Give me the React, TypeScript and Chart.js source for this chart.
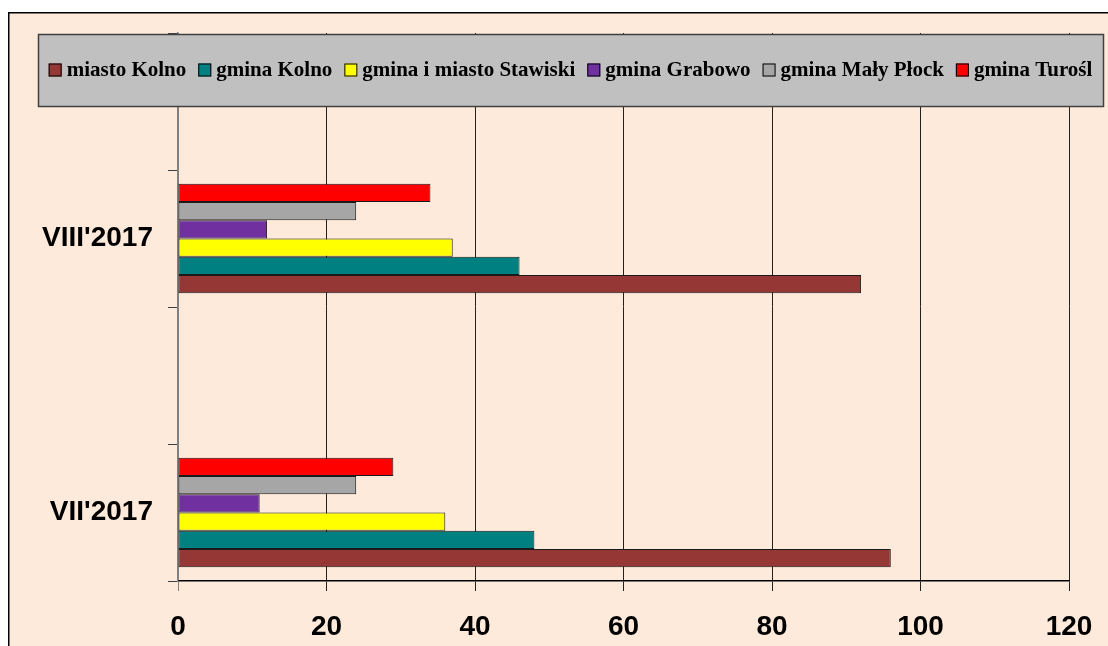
import React, { useEffect, useRef } from "react";
import { Chart, registerables } from "chart.js";

Chart.register(...registerables);

// categories listed bottom-to-top
const categories = ["VII'2017", "VIII'2017"];
const seriesNames = [
  "miasto Kolno",
  "gmina Kolno",
  "gmina i miasto Stawiski",
  "gmina Grabowo",
  "gmina Mały Płock",
  "gmina Turośl",
];
const miastoKolno = [96, 92];
const gminaKolno = [48, 46];
const gminaStawiski = [36, 37];
const gminaGrabowo = [11, 12];
const gminaMalyPlock = [24, 24];
const gminaTurosl = [29, 34];
const xTickValues = [0, 20, 40, 60, 80, 100, 120];

const seriesValues = [miastoKolno, gminaKolno, gminaStawiski, gminaGrabowo, gminaMalyPlock, gminaTurosl];
const seriesColors = ["#953735", "#008080", "#FFFF00", "#7030A0", "#A6A6A6", "#FF0000"];

const W = 1108;
const H = 646;

// each category is followed by an empty slot (as in the original sheet layout)
const chartLabels: string[] = [];
categories.forEach((c) => {
  chartLabels.push(c);
  chartLabels.push("");
});
const expand = (vals: number[]) => {
  const out: (number | null)[] = [];
  vals.forEach((v) => {
    out.push(v);
    out.push(null);
  });
  return out;
};

// datasets are given to Chart.js in reverse so the first series sits at the bottom of each group
const datasetsReversed = seriesNames
  .map((name, i) => ({
    label: name,
    data: expand(seriesValues[i]),
    backgroundColor: seriesColors[i],
    borderColor: "#1a1a1a",
    borderWidth: 1,
    borderSkipped: false,
    categoryPercentage: 0.8,
    barPercentage: 1,
  }))
  .reverse();

const framePlugin = {
  id: "frameAndLegend",
  beforeDraw(chart: any) {
    const ctx = chart.ctx;
    ctx.save();
    ctx.fillStyle = "#FFFFFF";
    ctx.fillRect(0, 0, W, H);
    ctx.fillStyle = "#FDEADA";
    ctx.fillRect(8, 12, W - 8, H - 12);
    ctx.strokeStyle = "#000000";
    ctx.lineWidth = 1.5;
    ctx.beginPath();
    ctx.moveTo(8.75, H);
    ctx.lineTo(8.75, 12.75);
    ctx.lineTo(W, 12.75);
    ctx.stroke();
    ctx.restore();
  },
  afterDraw(chart: any) {
    const ctx = chart.ctx;
    const bx = 38, by = 34, bw = 1103 - 38, bh = 106 - 34;
    ctx.save();
    ctx.fillStyle = "#C0C0C0";
    ctx.fillRect(bx, by, bw, bh);
    ctx.strokeStyle = "#404040";
    ctx.lineWidth = 1.5;
    ctx.strokeRect(bx + 0.5, by + 0.5, bw, bh);
    ctx.font = "bold 21px 'Liberation Serif', 'Times New Roman', serif";
    ctx.textBaseline = "middle";
    const sq = 13, gapSq = 5, gapItem = 12;
    const items = chart.data.datasets
      .slice()
      .reverse()
      .map((d: any) => ({
        label: d.label as string,
        color: d.backgroundColor as string,
        w: ctx.measureText(d.label).width,
      }));
    let total = 0;
    items.forEach((it: any, i: number) => {
      total += sq + gapSq + it.w + (i < items.length - 1 ? gapItem : 0);
    });
    let x = bx + (bw - total) / 2;
    const cy = by + bh / 2;
    items.forEach((it: any) => {
      ctx.fillStyle = it.color;
      ctx.fillRect(x, cy - sq / 2, sq, sq);
      ctx.strokeStyle = "#000";
      ctx.lineWidth = 1;
      ctx.strokeRect(x + 0.5, cy - sq / 2 + 0.5, sq - 1, sq - 1);
      ctx.fillStyle = "#000";
      ctx.fillText(it.label, x + sq + gapSq, cy + 1);
      x += sq + gapSq + it.w + gapItem;
    });
    ctx.restore();
  },
};

export default function App() {
  const ref = useRef<HTMLCanvasElement | null>(null);
  useEffect(() => {
    if (!ref.current) return;
    const chart = new Chart(ref.current, {
      type: "bar",
      data: {
        labels: chartLabels,
        datasets: datasetsReversed,
      },
      options: {
        indexAxis: "y",
        responsive: false,
        animation: false,
        devicePixelRatio: 1,
        layout: { padding: { left: 0, top: 33, right: W - 1069, bottom: 0 } },
        plugins: {
          legend: { display: false },
          tooltip: { enabled: false },
        },
        scales: {
          x: {
            type: "linear",
            min: 0,
            max: 120,
            afterBuildTicks: (scale: any) => {
              scale.ticks = xTickValues.map((v) => ({ value: v }));
            },
            afterFit: (scale: any) => {
              scale.height = H - 581;
              scale.paddingLeft = 0;
              scale.paddingRight = 0;
            },
            grid: {
              color: (c: any) => (c.index === 0 ? "#808080" : "#222222"),
              lineWidth: 1,
              tickLength: 10,
            },
            border: { color: "#000000", width: 1.5 },
            ticks: {
              color: "#000000",
              padding: 19,
              font: { family: "'Liberation Sans', Arial, sans-serif", size: 28, weight: "bold" },
            },
          },
          y: {
            type: "category",
            reverse: true,
            afterFit: (scale: any) => {
              scale.width = 178;
              scale.paddingTop = 0;
              scale.paddingBottom = 0;
            },
            grid: {
              drawOnChartArea: false,
              drawTicks: true,
              tickLength: 10,
              color: "#404040",
              lineWidth: 1,
              offset: true,
            },
            border: { color: "#808080", width: 1.5 },
            ticks: {
              color: "#000000",
              padding: 15,
              autoSkip: false,
              font: { family: "'Liberation Sans', Arial, sans-serif", size: 28, weight: "bold" },
            },
          },
        },
      },
      plugins: [framePlugin],
    } as any);
    return () => chart.destroy();
  }, []);
  return (
    <div style={{ position: "fixed", left: 0, top: 0, width: W, height: H }}>
      <canvas ref={ref} width={W} height={H} style={{ display: "block" }} />
    </div>
  );
}
